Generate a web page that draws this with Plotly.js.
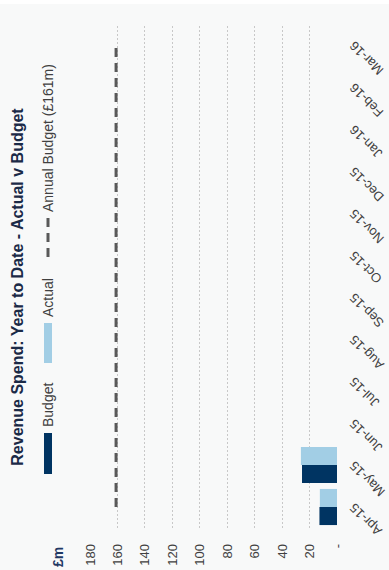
<!DOCTYPE html>
<html>
<head>
<meta charset="utf-8">
<script src="https://cdn.plot.ly/plotly-3.0.1.min.js"></script>
<style>
  html, body { margin: 0; padding: 0; background: #ffffff; width: 389px; height: 570px; overflow: hidden; }
  #chart { position: absolute; left: 0; top: 0; width: 566px; height: 389px;
           transform-origin: 0 0; transform: translate(0px, 570px) rotate(-90deg); }
</style>
</head>
<body>
<div id="chart"></div>
<script>
// ---- data ----
const months = ['Apr-15','May-15','Jun-15','Jul-15','Aug-15','Sep-15','Oct-15','Nov-15','Dec-15','Jan-16','Feb-16','Mar-16'];
const budget = [12.8, 25.5, null, null, null, null, null, null, null, null, null, null];
const actual = [12.5, 26.3, null, null, null, null, null, null, null, null, null, null];
const annualBudget = [161, 161, 161, 161, 161, 161, 161, 161, 161, 161, 161, 161];
const yTickVals = [0, 20, 40, 60, 80, 100, 120, 140, 160, 180];
const yTickText = ['-', '20', '40', '60', '80', '100', '120', '140', '160', '180'];
const legendLabels = ['Budget', 'Actual', 'Annual Budget (£161m)'];
const chartTitle = 'Revenue Spend: Year to Date - Actual v Budget';
const unitLabel = '£m';

// ---- styles / geometry ----
const W = 566, H = 389;
const M = { l: 42, r: 20, t: 90, b: 52 };
const pw = W - M.l - M.r, ph = H - M.t - M.b;
const px = x => (x - M.l) / pw;          // pixel x -> paper x
const py = y => (H - M.b - y) / ph;      // pixel y -> paper y
const C_BUDGET = '#003462', C_ACTUAL = '#a2cee5', C_LINE = '#595959';
const BG = '#f8f9f9';
const FONT = 'Liberation Sans, Arial, sans-serif';
const TXT = '#404040';

const traces = [
  { type: 'bar', name: legendLabels[0], x: months, y: budget, marker: { color: C_BUDGET }, hoverinfo: 'skip' },
  { type: 'bar', name: legendLabels[1], x: months, y: actual, marker: { color: C_ACTUAL }, hoverinfo: 'skip' },
  { type: 'scatter', mode: 'lines', name: legendLabels[2], x: months, y: annualBudget,
    line: { color: C_LINE, width: 3, dash: '9px,6px' }, hoverinfo: 'skip' }
];

const legY = 48;
const shapes = [
  { type: 'rect', xref: 'paper', yref: 'paper', x0: px(96), x1: px(137), y0: py(legY - 4), y1: py(legY + 4),
    fillcolor: C_BUDGET, line: { width: 0 } },
  { type: 'rect', xref: 'paper', yref: 'paper', x0: px(207), x1: px(247), y0: py(legY - 4), y1: py(legY + 4),
    fillcolor: C_ACTUAL, line: { width: 0 } },
  { type: 'line', xref: 'paper', yref: 'paper', x0: px(313), x1: px(352), y0: py(legY), y1: py(legY),
    line: { color: C_LINE, width: 3, dash: '9px,6px' } }
];

const annotations = [
  { xref: 'paper', yref: 'paper', x: px(141), y: py(legY), xanchor: 'left', yanchor: 'middle', showarrow: false,
    text: legendLabels[0], font: { family: FONT, size: 14, color: TXT } },
  { xref: 'paper', yref: 'paper', x: px(251), y: py(legY), xanchor: 'left', yanchor: 'middle', showarrow: false,
    text: legendLabels[1], font: { family: FONT, size: 14, color: TXT } },
  { xref: 'paper', yref: 'paper', x: px(356), y: py(legY), xanchor: 'left', yanchor: 'middle', showarrow: false,
    text: legendLabels[2], font: { family: FONT, size: 14, color: TXT } },
  { xref: 'paper', yref: 'paper', x: px(25), y: py(58), xanchor: 'right', yanchor: 'middle', showarrow: false,
    text: '<b>' + unitLabel + '</b>', font: { family: FONT, size: 14, color: '#1f3864' } }
];

const layout = {
  width: W, height: H,
  margin: M,
  paper_bgcolor: BG, plot_bgcolor: BG,
  font: { family: FONT, size: 14, color: TXT },
  title: { text: '<b>' + chartTitle + '</b>', x: 0.5, xref: 'container', xanchor: 'center',
           y: 1 - 17.5 / H, yref: 'container', yanchor: 'middle',
           font: { family: FONT, size: 16, color: '#1b2a47' } },
  showlegend: false,
  barmode: 'group', bargap: 0.14, bargroupgap: 0,
  xaxis: { type: 'category', categoryorder: 'array', categoryarray: months,
           showgrid: false, showline: false, ticks: '', zeroline: false,
           tickangle: -45, ticklabelstandoff: 6, tickfont: { family: FONT, size: 13, color: TXT } },
  yaxis: { range: [0, 180], tickvals: yTickVals, ticktext: yTickText,
           showgrid: true, gridcolor: '#c8c8c8', gridwidth: 1, griddash: '2px,2px',
           zeroline: false, showline: false, ticks: '', ticklabelstandoff: 15,
           tickfont: { family: FONT, size: 13, color: TXT } },
  shapes: shapes,
  annotations: annotations
};

Plotly.newPlot('chart', traces, layout, { staticPlot: true, displayModeBar: false });
</script>
</body>
</html>
